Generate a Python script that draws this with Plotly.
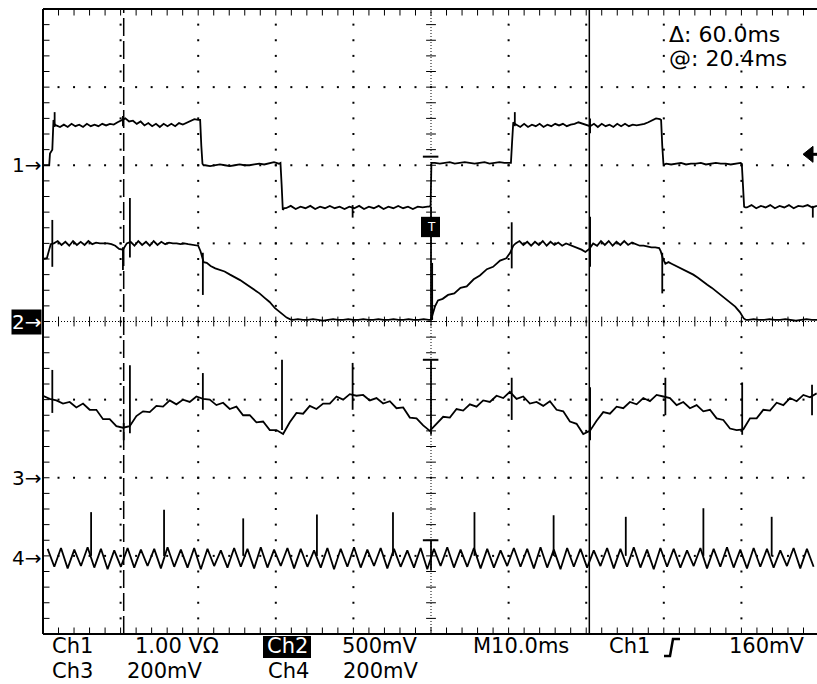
import numpy as np
import plotly.graph_objects as go

# ===================== DATA (time: ms from trigger, level: screen divisions) =====================
# ---- Channel 1 (1.00 V/div) ----
CH1_EDGE_T = [-50.0, -49.2, -49.1, -48.8, -48.65, -48.5,
              -29.75, -29.6, -29.45, -29.3,
              -19.4, -19.25, -19.1, -18.9,
              -0.25, -0.05, 0.05, 0.3,
              10.3, 10.45, 10.6, 10.8,
              29.65, 29.8, 29.95, 30.1,
              40.05, 40.2, 40.35, 40.5]
CH1_EDGE_V = [2.00, 2.00, 2.15, 2.20, 2.58, 2.52,
              2.58, 2.25, 2.02, 2.00,
              2.03, 1.75, 1.43, 1.45,
              1.47, 1.48, 2.03, 2.03,
              2.03, 2.30, 2.55, 2.53,
              2.58, 2.25, 2.02, 2.01,
              2.02, 1.75, 1.47, 1.46]
CH1_SEG_START = [-48.3, -29.1, -18.7, 0.5, 11.0, 30.3, 40.7]
CH1_SEG_END = [-30.0, -19.6, -0.45, 10.1, 29.5, 39.9, 49.74]
CH1_HI_A = [2.51, 2.49, 2.52, 2.49, 2.53, 2.50, 2.52, 2.49, 2.53, 2.50,
            2.52, 2.50, 2.53, 2.51, 2.53, 2.52, 2.55, 2.58, 2.60, 2.56,
            2.57, 2.53, 2.56, 2.51, 2.54, 2.50, 2.53, 2.49, 2.53, 2.50,
            2.53, 2.50, 2.54, 2.52, 2.54, 2.56, 2.59, 2.58]
CH1_MID_A = [2.00, 1.99, 2.00, 2.01, 2.00, 1.99, 2.00, 2.01, 2.00, 2.00,
             2.01, 2.02, 2.01, 2.03, 2.04, 2.02]
CH1_LO_A = [1.45, 1.48, 1.44, 1.47, 1.45, 1.48, 1.44, 1.47, 1.45, 1.48,
            1.45, 1.47, 1.44, 1.47, 1.45, 1.48, 1.44, 1.47, 1.45, 1.48,
            1.44, 1.47, 1.45, 1.48, 1.45, 1.47, 1.44, 1.47, 1.46, 1.47]
CH1_MID_B = [2.03, 2.02, 2.03, 2.04, 2.02, 2.03, 2.04, 2.03, 2.02, 2.03,
             2.04, 2.02, 2.03, 2.04, 2.03, 2.03]
CH1_HI_B = [2.52, 2.49, 2.53, 2.49, 2.52, 2.50, 2.53, 2.49, 2.52, 2.50,
            2.53, 2.51, 2.53, 2.50, 2.52, 2.53, 2.55, 2.53, 2.52, 2.50,
            2.53, 2.49, 2.53, 2.50, 2.52, 2.49, 2.53, 2.50, 2.53, 2.50,
            2.52, 2.51, 2.52, 2.53, 2.55, 2.57, 2.60, 2.59]
CH1_MID_C = [2.02, 2.01, 2.02, 2.03, 2.01, 2.02, 2.02, 2.03, 2.01, 2.02,
             2.03, 2.02, 2.02, 2.01, 2.02, 2.03]
CH1_LO_B = [1.46, 1.49, 1.45, 1.48, 1.46, 1.49, 1.45, 1.48, 1.46, 1.49,
            1.45, 1.48, 1.47, 1.49, 1.46, 1.48]
CH1_SPIKE_T = [-48.5, -39.7, -10.1, 10.8, 20.5, 49.2]
CH1_SPIKE_HI = [2.68, 2.63, 1.49, 2.68, 2.60, 1.48]
CH1_SPIKE_LO = [2.49, 2.50, 1.33, 2.50, 2.41, 1.33]

# ---- Channel 2 (500 mV/div) ----
CH2_EDGE_T = [-50.0, -49.5, -49.2, -49.0,
              -30.0, -29.7, -29.3, -28.9, -28.4, -27.8, -27.2, -26.6, -25.9, -25.3, -24.6,
              -24.0, -23.4, -22.7, -22.1, -21.4, -20.8, -20.1, -19.5, -19.1, -18.6, -18.2,
              -0.15, 0.0, 0.5, 0.9, 1.5, 2.2, 3.0, 3.8, 4.6, 5.5, 6.3, 7.2, 8.0, 8.9, 9.7,
              10.2, 10.6,
              29.6, 29.9, 30.2, 30.6, 31.0, 31.4, 32.0, 32.6, 33.2, 33.8, 34.4, 35.0, 35.6,
              36.2, 36.8, 37.4, 38.0, 38.6, 39.2, 39.8, 40.3, 40.6]
CH2_EDGE_V = [0.80, 0.81, 0.92, 0.99,
              0.97, 0.90, 0.76, 0.75, 0.71, 0.68, 0.66, 0.64, 0.60, 0.57, 0.53,
              0.49, 0.45, 0.40, 0.36, 0.30, 0.25, 0.17, 0.12, 0.08, 0.05, 0.03,
              0.02, 0.02, 0.19, 0.27, 0.29, 0.34, 0.36, 0.43, 0.45, 0.54, 0.59, 0.67, 0.70, 0.78, 0.81,
              0.88, 0.97,
              0.90, 0.80, 0.74, 0.76, 0.74, 0.72, 0.70, 0.67, 0.63, 0.60, 0.56, 0.51, 0.47,
              0.43, 0.38, 0.33, 0.29, 0.24, 0.19, 0.12, 0.04, 0.02]
CH2_SEG_START = [-48.6, -17.8, 10.9, 40.9]
CH2_SEG_END = [-30.3, -0.3, 29.4, 49.74]
CH2_HI_A = [1.00, 1.03, 0.98, 1.02, 0.97, 1.03, 0.98, 1.02, 0.98, 1.03,
            0.99, 1.01, 1.00, 1.00, 1.00, 0.99, 0.97, 0.93, 0.92, 1.00,
            1.02, 0.97, 1.03, 0.98, 1.02, 0.97, 1.03, 0.98, 1.02, 0.99,
            1.01, 1.00, 1.00, 0.99, 1.00, 0.99, 0.98, 0.97]
CH2_LO_A = [0.02, 0.03, 0.02, 0.02, 0.03, 0.02, 0.01, 0.02, 0.03, 0.02,
            0.02, 0.03, 0.02, 0.02, 0.03, 0.02, 0.02, 0.03, 0.02, 0.02,
            0.03, 0.02, 0.02, 0.03, 0.02, 0.02, 0.03, 0.02]
CH2_HI_B = [1.00, 1.03, 0.98, 1.02, 0.97, 1.02, 0.98, 1.03, 0.97, 1.02,
            0.98, 1.01, 0.97, 1.00, 0.98, 0.97, 0.95, 0.92, 0.89, 0.93,
            1.00, 0.97, 1.03, 0.98, 1.03, 0.97, 1.02, 0.98, 1.03, 0.98,
            1.01, 0.99, 0.97, 0.97, 0.96, 0.95, 0.95, 0.94]
CH2_LO_B = [0.02, 0.03, 0.02, 0.02, 0.03, 0.02, 0.02, 0.03, 0.02, 0.01,
            0.02, 0.03, 0.02, 0.02]
CH2_SPIKE_T = [-48.8, -39.7, -38.8, -29.4, 0.0, 0.15, 10.4, 20.5, 29.8]
CH2_SPIKE_HI = [1.30, 0.95, 1.58, 0.88, 1.47, 0.75, 1.27, 1.34, 0.88]
CH2_SPIKE_LO = [0.70, 0.66, 0.82, 0.34, 0.02, 0.02, 0.68, 0.70, 0.36]

# ---- Channel 3 (200 mV/div), evenly sampled from -50 to 49.7 ms ----
CH3_T_START, CH3_T_END = -50.0, 49.7
CH3_V = [-0.95, -0.99, -1.01, -1.05, -1.03, -1.10, -1.05, -1.13, -1.13, -1.25,
         -1.25, -1.34, -1.36, -1.34, -1.21, -1.15, -1.16, -1.08, -1.09, -1.01,
         -1.06, -1.00, -1.03, -0.96, -0.99, -1.00, -1.07, -1.04, -1.12, -1.09,
         -1.20, -1.20, -1.29, -1.28, -1.39, -1.39, -1.44, -1.29, -1.17, -1.18,
         -1.08, -1.12, -1.05, -1.05, -0.96, -1.00, -0.93, -0.95, -0.94, -1.01,
         -0.98, -1.05, -1.02, -1.11, -1.10, -1.23, -1.24, -1.33, -1.40, -1.31,
         -1.22, -1.23, -1.12, -1.14, -1.06, -1.09, -1.01, -1.03, -0.95, -0.98,
         -0.90, -0.99, -0.96, -1.05, -1.03, -1.08, -1.02, -1.13, -1.15, -1.28,
         -1.31, -1.44, -1.40, -1.27, -1.16, -1.18, -1.09, -1.11, -1.03, -1.06,
         -0.98, -1.02, -0.94, -0.96, -0.98, -1.07, -1.03, -1.11, -1.07, -1.15,
         -1.13, -1.24, -1.26, -1.37, -1.39, -1.38, -1.24, -1.24, -1.13, -1.14,
         -1.04, -1.07, -0.98, -1.02, -0.94, -0.97, -0.92]
CH3_SPIKE_T = [-48.8, -39.6, -38.8, -29.4, -19.2, -10.1, 0.0, 10.4, 20.5, 30.2, 40.1, 49.1]
CH3_SPIKE_HI = [-0.62, -1.30, -0.56, -0.66, -0.49, -0.53, -0.50, -0.72, -0.84, -0.72, -0.78, -0.81]
CH3_SPIKE_LO = [-1.17, -1.52, -1.43, -1.13, -1.39, -1.13, -1.45, -1.26, -1.52, -1.20, -1.45, -1.20]

# ---- Channel 4 (200 mV/div), ripple peaks / troughs evenly sampled ----
CH4_T_START, CH4_T_END = -49.4, 49.3
CH4_V = [-2.91, -3.14, -2.90, -3.16, -2.92, -3.13, -2.89, -3.15, -2.91, -3.17,
         -2.93, -3.14, -2.90, -3.15, -2.92, -3.13, -2.91, -3.16, -2.89, -3.14,
         -2.92, -3.15, -2.90, -3.17, -2.91, -3.13, -2.93, -3.15, -2.90, -3.14,
         -2.91, -3.16, -2.89, -3.15, -2.92, -3.13, -2.90, -3.16, -2.91, -3.14,
         -2.93, -3.15, -2.90, -3.17, -2.91, -3.14, -2.89, -3.15, -2.92, -3.13,
         -2.90, -3.16, -2.91, -3.14, -2.93, -3.15, -2.90, -3.17, -2.91, -3.13,
         -2.89, -3.15, -2.92, -3.14, -2.90, -3.16, -2.91, -3.15, -2.93, -3.13,
         -2.90, -3.14, -2.91, -3.16, -2.89, -3.15, -2.92, -3.17, -2.90, -3.14,
         -2.91, -3.15, -2.93, -3.13, -2.90, -3.16, -2.91, -3.14, -2.89, -3.15,
         -2.92, -3.17, -2.90, -3.14, -2.91, -3.15, -2.93, -3.13, -2.90, -3.16,
         -2.91, -3.14, -2.89, -3.15, -2.92, -3.16, -2.90, -3.14, -2.91, -3.15,
         -2.93, -3.13, -2.90, -3.16, -2.91, -3.14]
CH4_SPIKE_T = [-43.8, -34.4, -24.2, -14.7, -4.9, 0.0, 5.6, 15.8, 25.1, 35.1, 43.9]
CH4_SPIKE_HI = [-2.44, -2.41, -2.52, -2.47, -2.44, -2.80, -2.44, -2.48, -2.50, -2.39, -2.50]
CH4_SPIKE_LO = [-3.00, -3.00, -3.00, -3.00, -3.00, -3.18, -3.00, -3.00, -3.00, -3.00, -3.00]

# ---- channel ground markers, cursors, trigger ----
CH_LABELS = ["1", "2", "3", "4"]
CH_GROUND = [2.0, 0.0, -2.0, -3.03]
CURSOR_T = [-39.6, 20.4]
TRIG_LEVEL = 2.14
READOUT_1 = ["Ch1", "1.00 V\u03a9", "Ch2", "500mV", "M10.0ms", "Ch1", "160mV"]
READOUT_2 = ["Ch3", "200mV", "Ch4", "200mV"]
CURSOR_TEXT = ["\u0394: 60.0ms", "@: 20.4ms"]

# ===================== FIGURE =====================
W, H = 817, 684
ML, MR, MT, MB = 43, 0, 9, 50
X0, X1 = -50.0, 49.74
Y0, Y1 = -4.0, 4.0
PW, PH = W - ML - MR, H - MT - MB
SX, SY = PW / (X1 - X0), PH / (Y1 - Y0)


def PX(x):
    return (x - ML) / PW


def PY(y):
    return (H - MB - y) / PH


def build(edge_t, edge_v, starts, ends, segs):
    t = list(edge_t)
    v = list(edge_v)
    for s, e, vals in zip(starts, ends, segs):
        t.extend(np.linspace(s, e, len(vals)).tolist())
        v.extend(vals)
    o = np.argsort(np.array(t), kind="stable")
    return np.array(t)[o], np.array(v)[o]


def spikes(ts, hi, lo):
    xs, ys = [], []
    for t, h, l in zip(ts, hi, lo):
        xs += [t, t, None]
        ys += [l, h, None]
    return xs, ys


fig = go.Figure()
BLK = "black"

# graticule dots
MAJOR_T = [-40, -30, -20, -10, 10, 20, 30, 40]
MAJOR_V = [-3, -2, -1, 1, 2, 3]
minor_t = np.arange(-48.0, 49.0, 2.0)
minor_v = np.round(np.arange(-3.8, 3.81, 0.2), 2)
gx, gy = [], []
for v in MAJOR_V:
    gx += minor_t.tolist()
    gy += [v] * len(minor_t)
for t in MAJOR_T:
    gx += [t] * len(minor_v)
    gy += minor_v.tolist()
fig.add_trace(go.Scatter(x=gx, y=gy, mode="markers", hoverinfo="skip",
                         marker=dict(symbol="square", size=2, color=BLK, line=dict(width=0))))

# center line ticks
fig.add_trace(go.Scatter(x=minor_t.tolist(), y=[0] * len(minor_t), mode="markers", hoverinfo="skip",
                         marker=dict(symbol="line-ns", size=7, line=dict(width=1, color=BLK))))
fig.add_trace(go.Scatter(x=[0] * len(minor_v), y=minor_v.tolist(), mode="markers", hoverinfo="skip",
                         marker=dict(symbol="line-ew", size=7, line=dict(width=1, color=BLK))))
# border ticks
bt = np.arange(-48.0, 49.0, 2.0).tolist()
fig.add_trace(go.Scatter(x=bt + bt, y=[Y1 - 3.0 / SY] * len(bt) + [Y0 + 3.0 / SY] * len(bt),
                         mode="markers", hoverinfo="skip",
                         marker=dict(symbol="line-ns", size=5, line=dict(width=1, color=BLK))))
fig.add_trace(go.Scatter(x=[X0 + 3.0 / SX] * len(minor_v), y=minor_v.tolist(), mode="markers",
                         hoverinfo="skip",
                         marker=dict(symbol="line-ew", size=5, line=dict(width=1, color=BLK))))

# dense center lines
fig.add_shape(type="line", x0=0, x1=0, y0=Y0, y1=Y1, xref="x", yref="y",
              line=dict(color=BLK, width=1, dash="1px,2px"), layer="below")
fig.add_shape(type="line", x0=X0, x1=X1, y0=0, y1=0, xref="x", yref="y",
              line=dict(color=BLK, width=1, dash="1px,2px"), layer="below")

# cursors
fig.add_shape(type="line", x0=CURSOR_T[0], x1=CURSOR_T[0], y0=Y0, y1=Y1, xref="x", yref="y",
              line=dict(color=BLK, width=1.5, dash="18px,5px"))
fig.add_shape(type="line", x0=CURSOR_T[1], x1=CURSOR_T[1], y0=Y0, y1=Y1, xref="x", yref="y",
              line=dict(color=BLK, width=1.5))

# waveforms
t1, v1 = build(CH1_EDGE_T, CH1_EDGE_V, CH1_SEG_START, CH1_SEG_END,
               [CH1_HI_A, CH1_MID_A, CH1_LO_A, CH1_MID_B, CH1_HI_B, CH1_MID_C, CH1_LO_B])
t2, v2 = build(CH2_EDGE_T, CH2_EDGE_V, CH2_SEG_START, CH2_SEG_END,
               [CH2_HI_A, CH2_LO_A, CH2_HI_B, CH2_LO_B])
t3 = np.linspace(CH3_T_START, CH3_T_END, len(CH3_V))
t4 = np.linspace(CH4_T_START, CH4_T_END, len(CH4_V))
LW = 1.8
for tt, vv in [(t1, v1), (t2, v2), (t3, CH3_V), (t4, CH4_V)]:
    fig.add_trace(go.Scatter(x=tt, y=vv, mode="lines", hoverinfo="skip",
                             line=dict(color=BLK, width=LW)))
for st, sh, sl in [(CH1_SPIKE_T, CH1_SPIKE_HI, CH1_SPIKE_LO), (CH2_SPIKE_T, CH2_SPIKE_HI, CH2_SPIKE_LO),
                   (CH3_SPIKE_T, CH3_SPIKE_HI, CH3_SPIKE_LO), (CH4_SPIKE_T, CH4_SPIKE_HI, CH4_SPIKE_LO)]:
    sx_, sy_ = spikes(st, sh, sl)
    fig.add_trace(go.Scatter(x=sx_, y=sy_, mode="lines", hoverinfo="skip",
                             line=dict(color=BLK, width=LW)))

# trigger "T" bars on the center line
for yb in [2.11, -0.49, -2.80]:
    fig.add_shape(type="line", x0=-1.05, x1=0.95, y0=yb, y1=yb, xref="x", yref="y",
                  line=dict(color=BLK, width=2))
# trigger position box
fig.add_shape(type="rect", x0=-1.29, x1=1.16, y0=1.08, y1=1.34, xref="x", yref="y",
              fillcolor=BLK, line=dict(width=0))
fig.add_annotation(x=0, y=1.21, xref="x", yref="y", text="T", showarrow=False,
                   font=dict(family="DejaVu Sans", size=12, color="white"))

# borders
for x0, y0, x1, y1 in [(0, 0, 0, 1), (0, 1, 1, 1), (0, 0, 1, 0)]:
    fig.add_shape(type="line", xref="paper", yref="paper", x0=x0, y0=y0, x1=x1, y1=y1,
                  line=dict(color=BLK, width=2))

# channel ground markers
for lab, g in zip(CH_LABELS, CH_GROUND):
    boxed = lab == "2"
    fig.add_annotation(x=0, y=g, xref="paper", yref="y", xanchor="right", yanchor="middle",
                       xshift=-1, text=lab + "\u2192", showarrow=False,
                       bgcolor=BLK if boxed else "rgba(0,0,0,0)", borderpad=0,
                       font=dict(family="DejaVu Sans", size=20, color="white" if boxed else BLK))

# trigger level arrow on the right edge
ty = 321.5 - TRIG_LEVEL * SY
fig.add_shape(type="path", xref="paper", yref="paper",
              path=f"M {PX(803)},{PY(ty)} L {PX(813)},{PY(ty - 8)} L {PX(813)},{PY(ty + 8)} Z",
              fillcolor=BLK, line=dict(color=BLK, width=1))
fig.add_shape(type="line", xref="paper", yref="paper", x0=PX(812), x1=PX(817), y0=PY(ty), y1=PY(ty),
              line=dict(color=BLK, width=3))

# cursor readout
FONT = "DejaVu Sans"
for txt, yc in zip(CURSOR_TEXT, [34, 59]):
    fig.add_annotation(x=PX(667), y=PY(yc), xref="paper", yref="paper", xanchor="left",
                       yanchor="middle", text=txt, showarrow=False,
                       font=dict(family=FONT, size=22, color=BLK))

# bottom readout
fig.add_shape(type="rect", xref="paper", yref="paper", x0=PX(263), x1=PX(311), y0=PY(658), y1=PY(636),
              fillcolor=BLK, line=dict(width=0))
row1_x = [50, 133, 265, 340, 471, 607, 727]
for txt, xl in zip(READOUT_1, row1_x):
    fig.add_annotation(x=PX(xl), y=PY(646), xref="paper", yref="paper", xanchor="left",
                       yanchor="middle", text=txt, showarrow=False,
                       font=dict(family=FONT, size=21, color="white" if xl == 265 else BLK))
row2_x = [50, 125, 266, 341]
for txt, xl in zip(READOUT_2, row2_x):
    fig.add_annotation(x=PX(xl), y=PY(671), xref="paper", yref="paper", xanchor="left",
                       yanchor="middle", text=txt, showarrow=False,
                       font=dict(family=FONT, size=21, color=BLK))
# rising-edge trigger slope symbol
fig.add_shape(type="path", xref="paper", yref="paper",
              path=f"M {PX(664)},{PY(656)} L {PX(670)},{PY(656)} L {PX(673)},{PY(639)} L {PX(680)},{PY(639)}",
              line=dict(color=BLK, width=2.5))

fig.update_layout(width=W, height=H, autosize=False, showlegend=False,
                  margin=dict(l=ML, r=MR, t=MT, b=MB, pad=0),
                  paper_bgcolor="white", plot_bgcolor="white",
                  xaxis=dict(range=[X0, X1], visible=False, fixedrange=True),
                  yaxis=dict(range=[Y0, Y1], visible=False, fixedrange=True))
fig.write_html("out.html")
